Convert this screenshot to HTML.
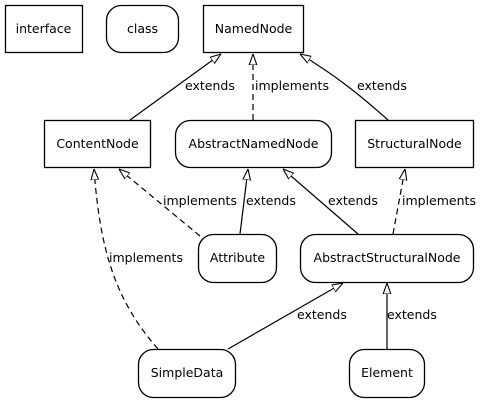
<!DOCTYPE html>
<html><head><style>html,body{margin:0;padding:0;background:#fff}svg{display:block}</style></head><body>
<svg width="484" height="403" viewBox="0 0 484 403" xmlns="http://www.w3.org/2000/svg" font-family="DejaVu Sans, Liberation Sans, sans-serif" font-size="12.5">
<defs>
<marker id="a" viewBox="0 0 10 8" refX="10" refY="4" markerWidth="11" markerHeight="9" markerUnits="userSpaceOnUse" orient="auto">
<path d="M0,0.5 L10,4 L0,7.5 Z" fill="#fff" stroke="#000" stroke-width="1"/>
</marker>
</defs>
<g fill="none" stroke="#000" stroke-width="1.3">
<rect x="5.5" y="5.5" width="77" height="47"/>
<rect x="106.5" y="5.5" width="72" height="47" rx="15"/>
<rect x="203.5" y="5.5" width="100" height="47"/>
<rect x="44.5" y="120.5" width="106" height="47"/>
<rect x="175.5" y="120.5" width="156" height="47" rx="15"/>
<rect x="355.5" y="120.5" width="118" height="47"/>
<rect x="198.5" y="234.5" width="78" height="48" rx="15"/>
<rect x="300.5" y="234.5" width="173" height="48" rx="15"/>
<rect x="138.5" y="349.5" width="97" height="48" rx="15"/>
<rect x="349.5" y="349.5" width="75" height="48" rx="15"/>
</g>
<g fill="none" stroke="#000" stroke-width="1.2" marker-end="url(#a)">
<path d="M130,120 L221,54"/>
<path d="M253,120 L253,54" stroke-dasharray="6,4"/>
<path d="M388,120 C360,95 335,75 300,54"/>
<path d="M240,234 L248,169"/>
<path d="M200,236 L119,169" stroke-dasharray="6,4"/>
<path d="M358,234 L283,169"/>
<path d="M393,234 L405,169" stroke-dasharray="6,4"/>
<path d="M158,349 C115,300 100,250 94,169" stroke-dasharray="6,4"/>
<path d="M228,349 L343,283"/>
<path d="M387,349 L387,283"/>
</g>
<g fill="#000">
<text x="43.5" y="33" text-anchor="middle">interface</text>
<text x="142.5" y="33" text-anchor="middle">class</text>
<text x="253.5" y="33" text-anchor="middle">NamedNode</text>
<text x="97.5" y="148" text-anchor="middle">ContentNode</text>
<text x="253.5" y="148" text-anchor="middle">AbstractNamedNode</text>
<text x="414.5" y="148" text-anchor="middle">StructuralNode</text>
<text x="237.5" y="262" text-anchor="middle">Attribute</text>
<text x="387" y="262" text-anchor="middle">AbstractStructuralNode</text>
<text x="187" y="377" text-anchor="middle">SimpleData</text>
<text x="387" y="377" text-anchor="middle">Element</text>
<text x="185" y="90">extends</text>
<text x="255" y="90">implements</text>
<text x="357" y="90">extends</text>
<text x="163" y="205">implements</text>
<text x="246" y="205">extends</text>
<text x="328" y="205">extends</text>
<text x="402" y="205">implements</text>
<text x="109" y="262">implements</text>
<text x="297" y="319">extends</text>
<text x="387" y="319">extends</text>
</g>
</svg>
</body></html>
